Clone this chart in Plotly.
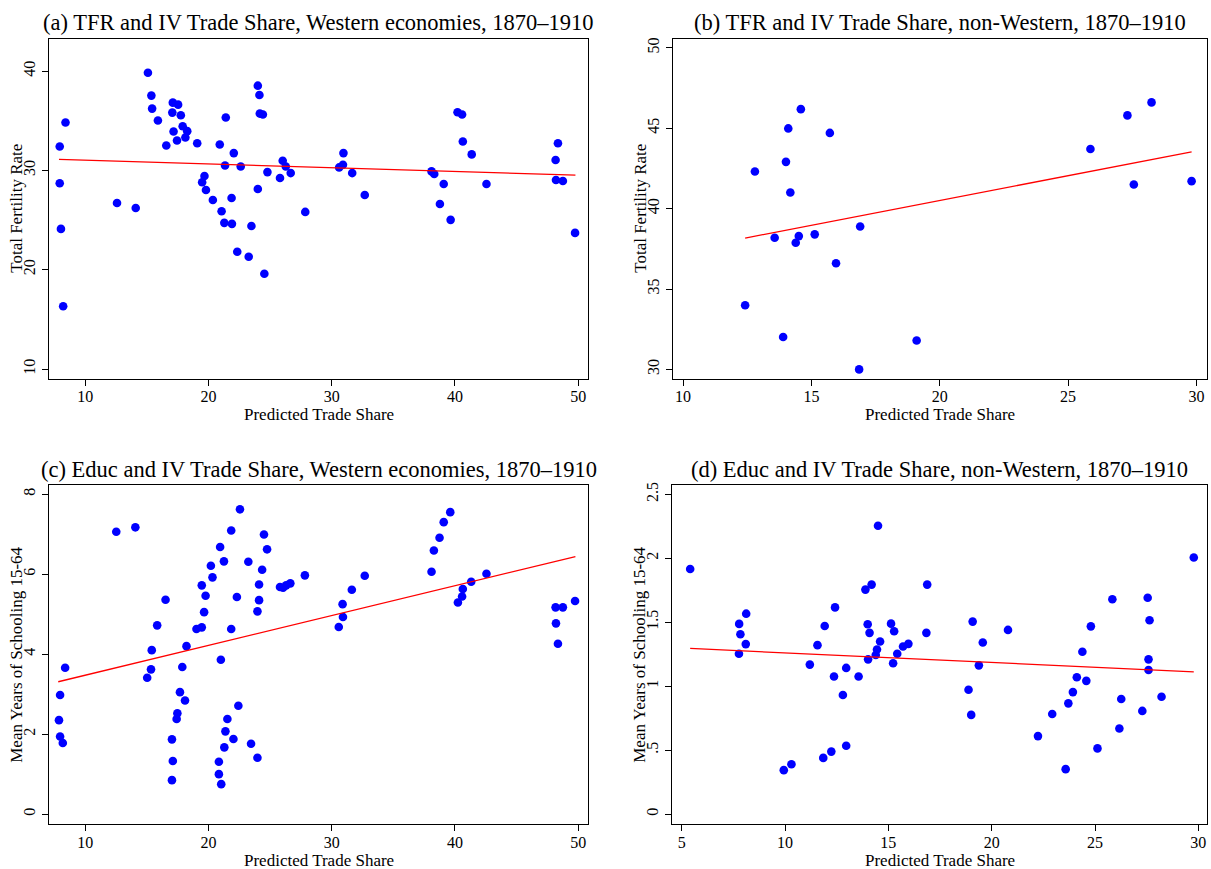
import plotly.graph_objects as go

W, H = 1211, 869

# ---------------- data ----------------
# (a) TFR vs predicted trade share, Western economies
a_x = [7.92, 7.92, 8.02, 8.20, 8.39, 12.57, 14.09, 15.08, 15.36, 15.42, 15.89, 16.57,
       17.10, 17.06, 17.16, 17.44, 17.53, 17.75, 17.90, 18.27, 18.12, 19.08, 19.48,
       19.67, 19.79, 20.35, 20.91, 21.06, 21.28, 21.34, 21.40, 21.87, 21.90, 22.05,
       22.33, 22.61, 23.26, 23.48, 24.00, 24.13, 24.16, 24.41, 24.00, 24.53, 24.78,
       25.80, 26.02, 26.27, 26.67, 27.85, 30.60, 30.91, 30.95, 31.66, 32.68, 38.10,
       38.32, 39.09, 38.78, 39.65, 40.21, 40.58, 40.64, 41.36, 42.56, 48.17, 48.36,
       48.20, 48.76, 49.75]
a_y = [32.41, 28.70, 24.11, 16.32, 34.82, 26.72, 26.22, 39.83, 37.53, 36.22, 35.02, 32.51,
       36.82, 35.82, 33.91, 33.01, 36.62, 35.55, 34.45, 33.95, 33.31, 32.74, 28.80,
       29.43, 28.03, 27.02, 32.61, 25.89, 24.72, 30.50, 35.32, 27.22, 24.62, 31.74,
       21.81, 30.40, 21.30, 24.41, 38.53, 37.59, 35.72, 35.62, 28.13, 19.60, 29.83,
       29.23, 30.97, 30.40, 29.73, 25.82, 30.30, 30.57, 31.74, 29.73, 27.53, 29.90,
       29.63, 28.63, 26.62, 25.02, 35.85, 35.62, 32.91, 31.61, 28.63, 31.04, 32.74,
       29.03, 28.93, 23.71]
a_fit_x = [7.86, 49.78]
a_fit_y = [31.10, 29.53]

# (b) TFR vs predicted trade share, non-Western
b_x = [12.42, 12.80, 13.57, 13.90, 14.01, 14.10, 14.18, 14.39, 14.51, 14.59, 15.13,
       15.72, 15.96, 16.86, 16.90, 19.10, 25.87, 27.31, 27.56, 28.25, 29.81]
b_y = [33.99, 42.31, 38.19, 32.01, 42.91, 44.99, 41.00, 37.88, 38.29, 46.19, 38.40,
       44.71, 36.60, 30.00, 38.89, 31.80, 43.71, 45.80, 41.50, 46.61, 41.71]
b_fit_x = [12.42, 29.81]
b_fit_y = [38.17, 43.53]

# (c) Education vs predicted trade share, Western economies
c_x = [7.86, 7.95, 7.95, 8.17, 8.36, 12.51, 14.06, 15.02, 15.33, 15.39, 15.83, 16.51,
       17.03, 17.10, 17.03, 17.41, 17.47, 17.68, 17.87, 18.09, 18.21, 19.02, 19.45,
       19.45, 19.64, 19.76, 20.19, 20.32, 20.84, 20.84, 21.03, 20.94, 21.00, 21.25,
       21.28, 21.37, 21.53, 21.84, 21.84, 22.02, 22.30, 22.42, 22.55, 23.23, 23.45,
       23.97, 23.97, 24.10, 24.10, 24.35, 24.50, 24.75, 25.80, 26.05, 26.30, 26.64,
       27.82, 30.57, 30.88, 30.91, 31.63, 32.68, 38.10, 38.29, 38.75, 39.09, 39.62,
       40.24, 40.58, 40.64, 41.32, 42.56, 48.17, 48.20, 48.36, 48.76, 49.75]
c_y = [2.35, 2.98, 1.94, 1.78, 3.66, 7.06, 7.17, 3.41, 3.62, 4.10, 4.72, 5.36,
       1.87, 1.33, 0.85, 2.38, 2.52, 3.05, 3.68, 2.84, 4.20, 4.63, 4.67,
       5.72, 5.05, 5.46, 6.21, 5.92, 1.31, 1.00, 0.75, 6.68, 3.86, 6.32,
       1.67, 2.07, 2.38, 7.09, 4.63, 1.88, 5.43, 2.71, 7.62, 6.31, 1.76,
       5.07, 1.41, 5.35, 5.74, 6.11, 6.99, 6.62, 5.68, 5.66, 5.72, 5.77,
       5.97, 4.68, 5.25, 4.93, 5.61, 5.96, 6.06, 6.59, 6.91, 7.30, 7.55,
       5.29, 5.44, 5.63, 5.81, 6.01, 5.17, 4.77, 4.26, 5.17, 5.33]
c_fit_x = [7.80, 49.78]
c_fit_y = [3.31, 6.44]

# (d) Education vs predicted trade share, non-Western
d_x = [5.41, 7.77, 7.78, 7.84, 8.10, 8.12, 9.94, 10.31, 11.20, 11.57, 11.85, 11.92,
       12.24, 12.37, 12.42, 12.80, 12.96, 12.96, 13.56, 13.89, 14.00, 14.02, 14.09,
       14.19, 14.39, 14.45, 14.50, 14.60, 15.13, 15.23, 15.28, 15.43, 15.71, 15.97,
       16.84, 16.88, 18.88, 19.01, 19.08, 19.38, 19.57, 20.79, 22.24, 22.93, 23.58,
       23.71, 23.93, 24.12, 24.39, 24.58, 24.80, 25.12, 25.84, 26.18, 26.27, 27.29,
       27.55, 27.59, 27.59, 27.64, 28.22, 29.78]
d_y = [1.916, 1.254, 1.487, 1.406, 1.329, 1.567, 0.344, 0.390, 1.169, 1.321, 0.440, 1.471,
       0.489, 1.076, 1.616, 0.931, 1.143, 0.535, 1.076, 1.755, 1.484, 1.210, 1.417,
       1.794, 1.244, 1.287, 2.254, 1.350, 1.489, 1.179, 1.430, 1.254, 1.311, 1.331,
       1.417, 1.794, 0.972, 0.776, 1.505, 1.163, 1.342, 1.440, 0.610, 0.783, 0.352,
       0.866, 0.954, 1.070, 1.269, 1.042, 1.468, 0.514, 1.680, 0.670, 0.900, 0.807,
       1.691, 1.210, 1.127, 1.515, 0.918, 2.006]
d_fit_x = [5.41, 29.78]
d_fit_y = [1.295, 1.112]

titles = ["(a) TFR and IV Trade Share, Western economies, 1870\u20131910",
          "(b) TFR and IV Trade Share, non-Western, 1870\u20131910",
          "(c) Educ and IV Trade Share, Western economies, 1870\u20131910",
          "(d) Educ and IV Trade Share, non-Western, 1870\u20131910"]
x_label = "Predicted Trade Share"
y_labels = ["Total Fertility Rate", "Total Fertility Rate",
            "Mean Years of Schooling 15-64", "Mean Years of Schooling 15-64"]

a_xticks = [10, 20, 30, 40, 50]
b_xticks = [10, 15, 20, 25, 30]
d_xticks = [5, 10, 15, 20, 25, 30]
a_yticks = [10, 20, 30, 40]
b_yticks = [30, 35, 40, 45, 50]
c_yticks = [0, 2, 4, 6, 8]
d_yticks = [0, 0.5, 1, 1.5, 2, 2.5]
d_yticktext = ["0", ".5", "1", "1.5", "2", "2.5"]

# ---------------- layout geometry (pixels) ----------------
FONT = "Liberation Serif"
panels = [
    # left, right, top, bottom (px)
    (49, 588, 36, 377),
    (673, 1207, 36, 377),
    (49, 588, 484, 824),
    (672, 1207, 484, 824),
]
xranges = [[7.05, 50.8], [9.61, 30.41], [7.05, 50.8], [4.53, 30.42]]
yranges = [[9.03, 43.24], [29.42, 50.56], [-0.25, 8.22], [-0.078, 2.57]]
xtickvals = [a_xticks, b_xticks, a_xticks, d_xticks]
ytickvals = [a_yticks, b_yticks, c_yticks, d_yticks]
yticktexts = [[str(v) for v in a_yticks], [str(v) for v in b_yticks],
              [str(v) for v in c_yticks], d_yticktext]

data = [(a_x, a_y, a_fit_x, a_fit_y), (b_x, b_y, b_fit_x, b_fit_y),
        (c_x, c_y, c_fit_x, c_fit_y), (d_x, d_y, d_fit_x, d_fit_y)]

fig = go.Figure()
annotations = []
layout = dict(width=W, height=H, margin=dict(l=0, r=0, t=0, b=0),
              paper_bgcolor="white", plot_bgcolor="white", showlegend=False,
              font=dict(family=FONT, color="black", size=16))

for i, ((px0, px1, py0, py1), (sx, sy, fx, fy)) in enumerate(zip(panels, data)):
    n = "" if i == 0 else str(i + 1)
    xa, ya = "x" + n, "y" + n
    fig.add_trace(go.Scatter(x=sx, y=sy, mode="markers", xaxis=xa, yaxis=ya,
                             marker=dict(color="#0000ff", size=8.6, line=dict(width=0)),
                             hoverinfo="x+y"))
    fig.add_trace(go.Scatter(x=fx, y=fy, mode="lines", xaxis=xa, yaxis=ya,
                             line=dict(color="#ff0000", width=1.3)))
    xd = [px0 / W, px1 / W]
    yd = [1 - py1 / H, 1 - py0 / H]
    layout["xaxis" + n] = dict(domain=xd, range=xranges[i], anchor=ya,
                               showgrid=False, zeroline=False, showline=True,
                               mirror=True, linecolor="black", linewidth=1.3,
                               ticks="outside", ticklen=6, tickwidth=1, tickcolor="black",
                               ticklabelstandoff=-3,
                               tickvals=xtickvals[i], tickfont=dict(size=16, family=FONT))
    layout["yaxis" + n] = dict(domain=yd, range=yranges[i], anchor=xa,
                               showgrid=False, zeroline=False, showline=True,
                               mirror=True, linecolor="black", linewidth=1.3,
                               ticks="outside", ticklen=6, tickwidth=1, tickcolor="black",
                               tickvals=ytickvals[i], ticktext=yticktexts[i],
                               tickangle=-90, tickfont=dict(size=16, family=FONT))
    cx = (px0 + px1) / 2 / W
    # panel title
    annotations.append(dict(text=titles[i], x=cx, y=1 - (py0 - 16) / H,
                            xref="paper", yref="paper", xanchor="center", yanchor="middle",
                            showarrow=False, font=dict(size=22.5, family=FONT, color="black")))
    # x axis title
    annotations.append(dict(text=x_label, x=cx, y=1 - (py1 + 36) / H,
                            xref="paper", yref="paper", xanchor="center", yanchor="middle",
                            showarrow=False, font=dict(size=17, family=FONT, color="black")))
    # y axis title
    annotations.append(dict(text=y_labels[i], x=(px0 - 32) / W, y=1 - (py0 + py1) / 2 / H,
                            xref="paper", yref="paper", xanchor="center", yanchor="middle",
                            textangle=-90, showarrow=False,
                            font=dict(size=17, family=FONT, color="black")))

layout["annotations"] = annotations
fig.update_layout(**layout)

fig.write_html("out.html", config={"displayModeBar": False},
               post_script="document.body.style.margin='0';")
